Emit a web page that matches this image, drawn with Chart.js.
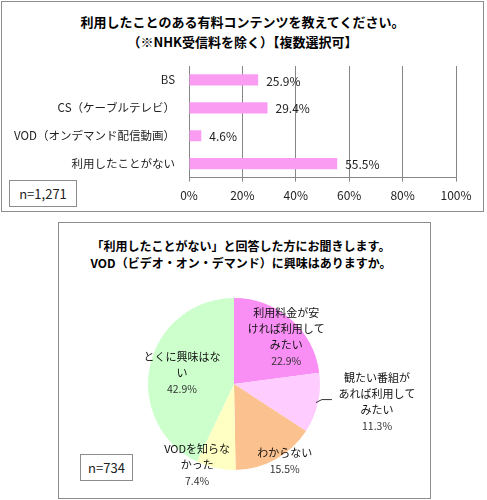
<!DOCTYPE html>
<html>
<head>
<meta charset="utf-8">
<script src="https://cdn.jsdelivr.net/npm/chart.js@4"></script>
<style>
  body { margin: 0; background: #fff; font-family: 'Noto Sans CJK JP', sans-serif; }
  #page { position: relative; width: 487px; height: 500px; }
  .box { position: absolute; box-sizing: border-box; border: 1px solid #8c8c8c; }
  .title { position: absolute; text-align: center; font-weight: bold; color: #000; white-space: nowrap; }
  .nbox { position: absolute; box-sizing: border-box; border: 1px solid #8c8c8c; font-size: 13px; color: #222;
          display: flex; align-items: center; justify-content: center; background: #fff; }
  canvas { position: absolute; }
</style>
</head>
<body>
<div id="page">
  <div class="box" style="left:1px;top:1px;width:483px;height:211px;"></div>
  <div class="title" style="left:1px;top:12px;width:483px;font-size:13px;line-height:20px;">
    利用したことのある有料コンテンツを教えてください。<br>（※NHK受信料を除く）【複数選択可】
  </div>
  <canvas id="usage" width="487" height="156" style="left:0;top:56px;"></canvas>
  <div class="nbox" style="left:9px;top:180px;width:68px;height:27px;">n=1,271</div>

  <div class="box" style="left:58px;top:222px;width:373px;height:277px;"></div>
  <div class="title" style="left:58px;top:237px;width:366px;font-size:12px;line-height:17px;">
    「利用したことがない」と回答した方にお聞きします。<br>VOD（ビデオ・オン・デマンド）に興味はありますか。
  </div>
  <canvas id="interest" width="368" height="210" style="left:60px;top:280px;"></canvas>
  <div class="nbox" style="left:80px;top:454px;width:53px;height:27px;">n=734</div>
</div>

<script>
/* data: paid content used */
var usageLabels = ['BS', 'CS（ケーブルテレビ）', 'VOD（オンデマンド配信動画）', '利用したことがない'];
var usageValues = [25.9, 29.4, 4.6, 55.5];
var usageTicks = [0, 20, 40, 60, 80, 100];

/* data: interest in VOD */
var interestLabels = [
  ['利用料金が安', 'ければ利用して', 'みたい'],
  ['観たい番組が', 'あれば利用して', 'みたい'],
  ['わからない'],
  ['VODを知らな', 'かった'],
  ['とくに興味はな', 'い']
];
var interestValues = [22.9, 11.3, 15.5, 7.4, 42.9];

var pieColors = ['#f98ef4', '#ffccff', '#fbc18e', '#ffffc4', '#ccffcc'];
/* label placement: radius factor, dx, dy, leader line */
var pieLabelPos = [
  { f: 0.815, dx: 6, dy: 6 },
  { f: 1.67, dx: 3, dy: -14, leader: true },
  { f: 1.074, dx: 6, dy: -4 },
  { f: 1.035, dx: -18, dy: -6 },
  { f: 0.62, dx: 0, dy: 1 }
];

Chart.defaults.font.family = "'Noto Sans CJK JP', sans-serif";
Chart.defaults.color = '#222';

/* Barras Inicio */
var barValueLabels = {
  id: 'barValueLabels',
  afterDatasetsDraw: function(chart) {
    var ctx = chart.ctx;
    var meta = chart.getDatasetMeta(0);
    ctx.save();
    ctx.font = "12px 'Noto Sans CJK JP', sans-serif";
    ctx.fillStyle = '#222';
    ctx.textAlign = 'left';
    ctx.textBaseline = 'middle';
    meta.data.forEach(function(bar, i) {
      ctx.fillText(usageValues[i].toFixed(1) + '%', bar.x + 8, bar.y + 1);
    });
    ctx.restore();
  }
};

var usageChart = new Chart(document.getElementById('usage'), {
  type: 'bar',
  data: {
    labels: usageLabels,
    datasets: [{
      data: usageValues,
      backgroundColor: '#fb9cf3',
      borderWidth: 0,
      barPercentage: 0.4,
      categoryPercentage: 1.0
    }]
  },
  options: {
    indexAxis: 'y',
    responsive: false,
    animation: false,
    layout: { padding: { top: 10, right: 31, bottom: 2, left: 0 } },
    plugins: { legend: { display: false }, tooltip: { enabled: false } },
    scales: {
      x: {
        min: usageTicks[0],
        max: usageTicks[usageTicks.length - 1],
        afterBuildTicks: function(scale) {
          scale.ticks = usageTicks.map(function(v) { return { value: v }; });
        },
        ticks: {
          padding: 7,
          font: { size: 12 },
          color: '#222',
          callback: function(v) { return v + '%'; }
        },
        grid: { color: '#868686', lineWidth: 1, drawTicks: true, tickLength: 4 },
        border: { color: '#868686' }
      },
      y: {
        afterFit: function(scale) {
          scale.width = 189;
          scale.paddingTop = 0;
          scale.paddingBottom = 0;
        },
        ticks: { padding: 14, font: { size: 11.5 }, color: '#222' },
        grid: { display: false, drawTicks: false },
        border: { display: true, color: '#868686' }
      }
    }
  },
  plugins: [barValueLabels]
});
/* Barras Fin */

/* Pie Inicio */
var pieLabels = {
  id: 'pieLabels',
  afterDatasetsDraw: function(chart) {
    var ctx = chart.ctx;
    var meta = chart.getDatasetMeta(0);
    var lineH = 16;
    ctx.save();
    ctx.textAlign = 'center';
    ctx.textBaseline = 'middle';
    meta.data.forEach(function(arc, i) {
      var p = arc.getProps(['x', 'y', 'startAngle', 'endAngle', 'outerRadius'], true);
      var mid = (p.startAngle + p.endAngle) / 2;
      var pos = pieLabelPos[i];
      var cx = p.x + Math.cos(mid) * p.outerRadius * pos.f + pos.dx;
      var cy = p.y + Math.sin(mid) * p.outerRadius * pos.f + pos.dy;
      var lines = interestLabels[i].concat([interestValues[i].toFixed(1) + '%']);
      var top = cy - (lines.length - 1) * lineH / 2;
      lines.forEach(function(t, k) {
        var isPct = k === lines.length - 1;
        ctx.font = (isPct ? '10.5px' : '11px') + " 'Noto Sans CJK JP', sans-serif";
        ctx.fillStyle = isPct ? '#333' : '#111';
        ctx.fillText(t, cx, top + k * lineH);
      });
      if (pos.leader) {
        var ex = p.x + Math.cos(mid) * (p.outerRadius - 2);
        var ey = p.y + Math.sin(mid) * (p.outerRadius - 2);
        ctx.strokeStyle = '#333';
        ctx.lineWidth = 1;
        ctx.beginPath();
        ctx.moveTo(ex, ey);
        ctx.lineTo(ex + 6, ey - 3);
        ctx.lineTo(ex + 16, ey - 3);
        ctx.stroke();
      }
    });
    ctx.restore();
  }
};

var interestChart = new Chart(document.getElementById('interest'), {
  type: 'pie',
  data: {
    labels: interestLabels.map(function(l) { return l.join(''); }),
    datasets: [{
      data: interestValues,
      backgroundColor: pieColors,
      borderWidth: 0,
      hoverBorderWidth: 0,
      hoverOffset: 0,
      offset: 0
    }]
  },
  options: {
    responsive: false,
    animation: false,
    layout: { padding: { top: 18, right: 108, bottom: 20, left: 88 } },
    plugins: { legend: { display: false }, tooltip: { enabled: false } }
  },
  plugins: [pieLabels]
});
/* Pie Fin */
</script>
</body>
</html>
